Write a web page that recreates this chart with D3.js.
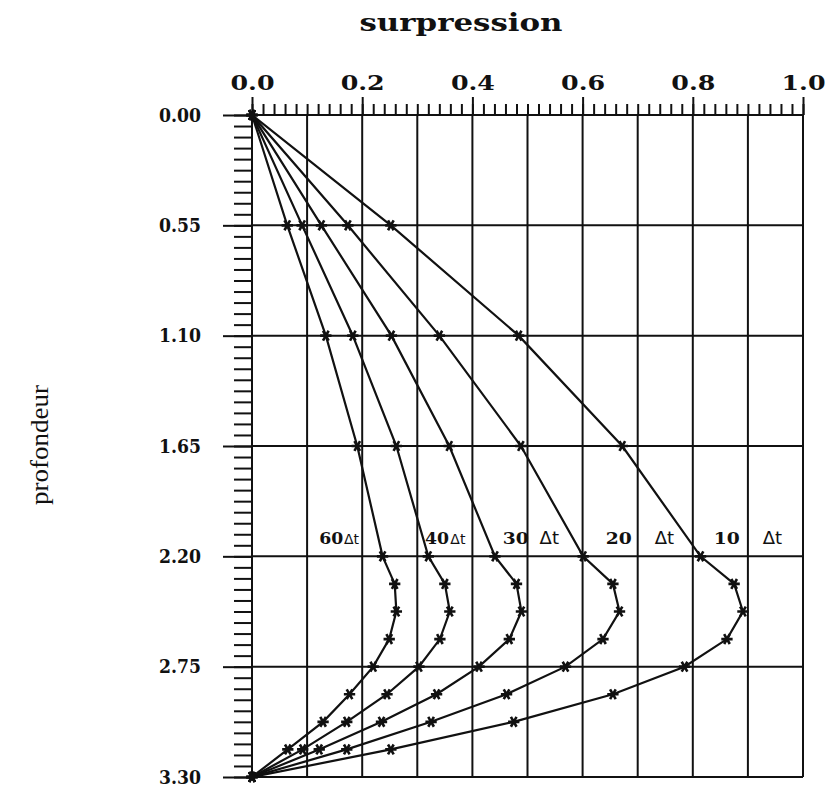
<!DOCTYPE html>
<html>
<head>
<meta charset="utf-8">
<script src="https://cdn.jsdelivr.net/npm/d3@7"></script>
<style>
  body { margin: 0; background: #fff; }
  svg { display: block; }
</style>
</head>
<body>
<svg id="chart"></svg>
<script>
// ── data ───────────────────────────────────────────────────────────────
const depths = [0, 0.55, 1.10, 1.65, 2.20, 2.3375, 2.475, 2.6125, 2.75, 2.8875, 3.025, 3.1625, 3.30];

const s10 = [0, 0.252, 0.484, 0.672, 0.814, 0.875, 0.891, 0.862, 0.785, 0.655, 0.475, 0.252, 0];
const s20 = [0, 0.174, 0.340, 0.488, 0.601, 0.655, 0.667, 0.637, 0.569, 0.462, 0.325, 0.172, 0];
const s30 = [0, 0.126, 0.253, 0.358, 0.441, 0.480, 0.489, 0.467, 0.412, 0.335, 0.235, 0.122, 0];
const s40 = [0, 0.091, 0.183, 0.262, 0.320, 0.350, 0.359, 0.341, 0.303, 0.245, 0.172, 0.092, 0];
const s60 = [0, 0.064, 0.134, 0.191, 0.237, 0.259, 0.262, 0.249, 0.220, 0.177, 0.129, 0.065, 0];

const seriesNames = ["10", "20", "30", "40", "60"];
const seriesVals  = [s10, s20, s30, s40, s60];

// curve labels: number, Δt part, x (surpression) where each part starts
const labelNums  = ["60", "40", "30", "20", "10"];
const labelNumX  = [0.122, 0.314, 0.455, 0.642, 0.838];
const labelDtX   = [0.167, 0.360, 0.522, 0.731, 0.927];
const labelDepth = 2.14;

const xTicks      = [0, 0.2, 0.4, 0.6, 0.8, 1.0];
const xGrid       = [0, 0.1, 0.2, 0.3, 0.4, 0.5, 0.6, 0.7, 0.8, 0.9, 1.0];
const yTicks      = [0, 0.55, 1.10, 1.65, 2.20, 2.75, 3.30];

// ── geometry ───────────────────────────────────────────────────────────
const W = 825, H = 789;
const svg = d3.select("#chart").attr("width", W).attr("height", H);

const x = d3.scaleLinear().domain([0, 1]).range([252, 803]);
const y = d3.scaleLinear().domain([0, 3.3]).range([115, 777]);

const ink = "#111";
const numFont = "'DejaVu Serif', serif";

// ── grid ───────────────────────────────────────────────────────────────
const grid = svg.append("g").attr("stroke", ink).attr("stroke-width", 2);

grid.selectAll(".vgrid")
    .data(xGrid)
    .enter().append("line")
    .attr("class", "vgrid")
    .attr("x1", d => x(d)).attr("x2", d => x(d))
    .attr("y1", y(0)).attr("y2", y(3.3));

grid.selectAll(".hgrid")
    .data(yTicks)
    .enter().append("line")
    .attr("class", "hgrid")
    .attr("x1", x(0)).attr("x2", x(1))
    .attr("y1", d => y(d)).attr("y2", d => y(d));

// ── top axis ───────────────────────────────────────────────────────────
const xMinor = d3.range(0, 1.0001, 0.02);

const xMinorG = svg.append("g")
    .attr("transform", `translate(0,${y(0)})`)
    .call(d3.axisTop(x).tickValues(xMinor).tickSize(11).tickFormat(""));

const xMajorG = svg.append("g")
    .attr("transform", `translate(0,${y(0)})`)
    .call(d3.axisTop(x).tickValues(xTicks).tickSize(18).tickPadding(7)
        .tickFormat(d3.format(".1f")));

[xMinorG, xMajorG].forEach(a => {
    a.selectAll("line").attr("stroke", ink).attr("stroke-width", 2);
    a.select(".domain").remove();
});
xMajorG.selectAll("text")
    .attr("fill", ink)
    .attr("textLength", 44)
    .attr("lengthAdjust", "spacingAndGlyphs")
    .style("font-family", numFont)
    .style("font-weight", "bold")
    .style("font-size", "20px");

// ── left axis ──────────────────────────────────────────────────────────
const yMinor = d3.range(0, 3.3001, 0.055);

const yMinorG = svg.append("g")
    .attr("transform", `translate(${x(0)},0)`)
    .call(d3.axisLeft(y).tickValues(yMinor).tickSize(18).tickFormat(""));

const yMajorG = svg.append("g")
    .attr("transform", `translate(${x(0)},0)`)
    .call(d3.axisLeft(y).tickValues(yTicks).tickSize(29).tickPadding(22)
        .tickFormat(d3.format(".2f")));

[yMinorG, yMajorG].forEach(a => {
    a.selectAll("line").attr("stroke", ink).attr("stroke-width", 2);
    a.select(".domain").remove();
});
yMajorG.selectAll("text")
    .attr("fill", ink)
    .attr("textLength", 42)
    .attr("lengthAdjust", "spacingAndGlyphs")
    .style("font-family", numFont)
    .style("font-weight", "bold")
    .style("font-size", "19px");

// ── curves ─────────────────────────────────────────────────────────────
const line = d3.line()
    .x(d => x(d.v))
    .y(d => y(d.z));

const star = d3.symbol().type(d3.symbolAsterisk).size(90);

seriesVals.forEach((vals, i) => {
    const pts = vals.map((v, j) => ({ v, z: depths[j] }));
    const g = svg.append("g").attr("class", `curve-${seriesNames[i]}`);

    g.append("path")
        .datum(pts)
        .attr("d", line)
        .attr("fill", "none")
        .attr("stroke", ink)
        .attr("stroke-width", 2.2);

    g.selectAll(".mk")
        .data(pts)
        .enter().append("path")
        .attr("class", "mk")
        .attr("d", star)
        .attr("transform", d => `translate(${x(d.v)},${y(d.z)}) rotate(90)`)
        .attr("fill", "none")
        .attr("stroke", ink)
        .attr("stroke-width", 2.6);
});

// ── curve labels ───────────────────────────────────────────────────────
labelNums.forEach((n, i) => {
    svg.append("text")
        .attr("x", x(labelNumX[i]))
        .attr("y", y(labelDepth))
        .attr("fill", ink)
        .attr("textLength", i < 2 ? 24 : 26)
        .attr("lengthAdjust", "spacingAndGlyphs")
        .style("font-family", numFont)
        .style("font-weight", "bold")
        .style("font-size", "16px")
        .text(n);
    svg.append("text")
        .attr("x", x(labelDtX[i]))
        .attr("y", y(labelDepth))
        .attr("fill", ink)
        .style("font-family", "'DejaVu Sans', sans-serif")
        .style("font-size", i < 2 ? "14px" : "18px")
        .text("Δt");
});

// ── axis titles ────────────────────────────────────────────────────────
svg.append("text")
    .attr("x", 461)
    .attr("y", 31)
    .attr("text-anchor", "middle")
    .attr("fill", ink)
    .attr("textLength", 203)
    .attr("lengthAdjust", "spacingAndGlyphs")
    .style("font-family", numFont)
    .style("font-weight", "bold")
    .style("font-size", "25px")
    .text("surpression");

svg.append("text")
    .attr("transform", "translate(48,445) rotate(-90)")
    .attr("text-anchor", "middle")
    .attr("fill", ink)
    .attr("textLength", 120)
    .attr("lengthAdjust", "spacingAndGlyphs")
    .style("font-family", "'Liberation Serif', serif")
    .style("font-size", "26px")
    .text("profondeur");
</script>
</body>
</html>
